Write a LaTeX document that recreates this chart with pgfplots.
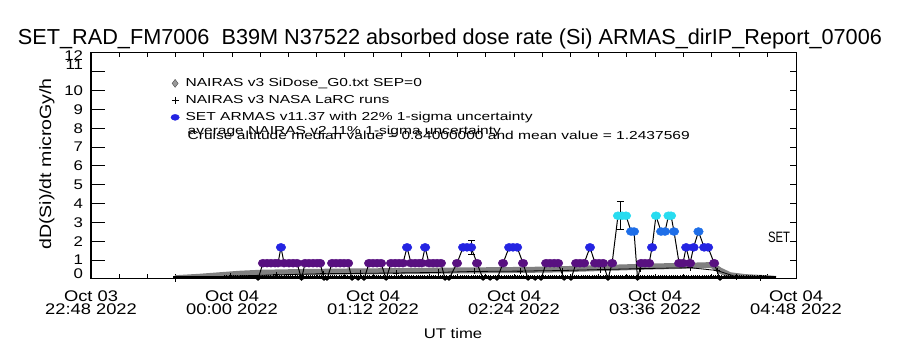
\documentclass[border=0pt]{standalone}
\usepackage{pgfplots}
\pgfplotsset{compat=1.18}
\usepackage{pgfplotstable}
\usepackage{fontspec}
\setmainfont{Liberation Sans}
\usepackage{graphicx}

\definecolor{purp}{RGB}{88,16,128}
\definecolor{blA}{RGB}{36,36,226}
\definecolor{blB}{RGB}{30,110,232}
\definecolor{cyn}{RGB}{40,220,240}

\pgfplotsset{dotlegend/.style={legend image code/.code={\pgfpathrectangle{\pgfpoint{0pt}{-3pt}}{\pgfpoint{17pt}{6pt}}\pgfusepath{use as bounding box}\draw[##1] plot coordinates {(8.5pt,0pt)};}}}

% ARMAS dose rate: t = minutes after 22:48 UT, d = microGy/h, c = colour class
\pgfplotstableread{
t d c
85.3 0 z
87.8 0.84 p
89.9 0.84 p
91.9 0.84 p
94.0 0.84 p
95.5 0.84 p
97.0 1.68 b
98.6 0.84 p
101.1 0.84 p
103.2 0.84 p
105.2 0.84 p
107.5 0 z
109.3 0.84 p
111.3 0.84 p
113.4 0.84 p
115.4 0.84 p
117.0 0.84 p
119.0 0 z
120.5 0 z
123.1 0.84 p
125.1 0.84 p
127.2 0.84 p
129.2 0.84 p
131.3 0.84 p
133.3 0 z
136.4 0 z
139.4 0 z
142.0 0.84 p
144.0 0.84 p
146.1 0.84 p
148.1 0.84 p
150.7 0 z
153.2 0.84 p
155.3 0.84 p
157.3 0.84 p
159.3 0.84 p
161.4 1.68 b
163.4 0.84 p
165.5 0.84 p
167.5 0.84 p
168.9 0.84 p
170.6 1.68 b
172.6 0.84 p
174.7 0.84 p
176.7 0.84 p
178.7 0.84 p
180.8 0 z
182.8 0 z
186.9 0.84 p
190.0 1.68 b
192.0 1.68 b
194.1 1.68 b
197.1 0.84 p
200.2 0 z
203.8 0 z
207.3 0 z
210.4 0.84 p
213.5 1.68 b
215.5 1.68 b
217.6 1.68 b
220.6 0.84 p
223.2 0 z
226.8 0 z
229.8 0 z
232.4 0.84 p
234.4 0.84 p
236.5 0.84 p
238.5 0.84 p
241.6 0 z
245.1 0 z
247.7 0.84 p
249.7 0.84 p
251.8 0.84 p
254.8 1.68 b
257.4 0.84 p
259.4 0.84 p
261.5 0.84 p
264.0 0 z
266.1 0.84 p
269.1 3.36 c
271.2 3.36 c
273.2 3.36 c
275.8 2.52 B
277.3 2.52 B
279.1 0 z
280.9 0.84 p
282.9 0.84 p
285.0 0.84 p
286.5 1.68 b
288.5 3.36 c
291.1 2.52 B
293.1 2.52 B
294.9 3.36 c
296.2 3.36 c
297.7 2.52 B
300.3 0.84 p
302.3 0.84 p
303.9 1.68 b
305.9 0.84 p
307.7 1.68 b
310.2 2.52 B
313.1 1.68 b
315.1 1.68 b
318.2 0.84 p
321.2 0 z
}\armas

% NAIRAS v3 SiDose G0 model curve
\pgfplotstableread{
t d
42.9 0.04
55.7 0.12
65.9 0.20
76.1 0.28
86.3 0.33
106.7 0.37
132.3 0.40
157.8 0.42
183.3 0.45
208.9 0.47
234.4 0.50
259.9 0.58
285.5 0.66
311.0 0.72
317.1 0.74
321.2 0.45
326.3 0.20
334.0 0.10
346.8 0.03
349.8 0.00
}\sidose

% NAIRAS v3 NASA LaRC runs
\pgfplotstableread{
t d
42.9 0.02
71.0 0.15
94.5 0.22
118.5 0.28
137.4 0.30
155.8 0.32
177.2 0.35
195.6 0.40
219.1 0.42
240.5 0.45
259.9 0.50
280.4 0.55
305.9 0.60
319.7 0.45
329.4 0.12
341.7 0.05
}\larc

\begin{document}
\begin{tikzpicture}
\pgfplotsset{base/.style={at={(91pt,71pt)}, anchor=south west,
  width=705pt, height=226pt, scale only axis,
  xmin=0, xmax=360, ymin=0, ymax=12,
  axis line style={line width=1pt},
  tick style={black, line width=1pt},
  /pgf/number format/assume math mode=true}}
\path[use as bounding box] (0,0) rectangle (900pt,350pt);

\begin{axis}[base,
  xtick={0,72,...,360}, minor x tick num=4,
  major tick length=4.5pt, minor tick length=4.5pt,
  ytick=\empty,
  xticklabels={{Oct 03\\22:48 2022},{Oct 04\\00:00 2022},{Oct 04\\01:12 2022},{Oct 04\\02:24 2022},{Oct 04\\03:36 2022},{Oct 04\\04:48 2022}},
  xticklabel style={align=center, font=\fontsize{15.4}{13.3}\selectfont, inner sep=0pt, yshift=-11.7pt, xscale=1.19},
  legend style={at={(0.107,0.902)}, anchor=north west, draw=none, fill=none,
    inner sep=0pt, row sep=1pt, font=\fontsize{11.6}{12}\selectfont,
    nodes={inner sep=2pt, text height=9pt, text depth=3pt}},
  legend cell align=left,
]
\addplot[black!50, line width=6pt, line join=round, forget plot] table[x=t,y=d] {\sidose};
\addplot[black, line width=2.5pt, forget plot] coordinates {(42,0.07) (350,0.07)};
\addplot[black, line width=4pt, dash pattern=on 0.8pt off 1.4pt, forget plot] coordinates {(68,0.12) (345,0.12)};
\addplot[black, line width=0.8pt, mark=+, mark size=3pt, forget plot] table[x=t,y=d] {\larc};
\addplot[black, line width=1pt, mark=none, forget plot] table[x=t,y=d] {\armas};
\addplot[scatter, only marks, mark=*, mark size=4pt, mark options={xscale=1.2},
  scatter src=explicit symbolic,
  scatter/classes={
    z={mark=*, black, mark size=1.5pt},
    p={mark=*, draw=purp, fill=purp},
    b={mark=*, draw=blA, fill=blA},
    B={mark=*, draw=blB, fill=blB},
    c={mark=*, draw=cyn, fill=cyn}},
  forget plot] table[x=t,y=d,meta=c] {\armas};
\addplot[draw=none, no markers, forget plot,
  error bars/.cd, y dir=both, y explicit,
  error bar style={black, line width=1pt},
  error mark options={black, line width=1pt, mark size=3.5pt, rotate=90}]
  coordinates {(194.4,1.68) +- (0,0.37) (270.3,3.36) +- (0,0.74)};

\addlegendimage{only marks, mark=diamond*, mark size=4pt, draw=black!70, fill=black!40, dotlegend}
\addlegendentry{\scalebox{1.34}[1]{NAIRAS v3 SiDose\_G0.txt SEP=0}}
\addlegendimage{only marks, mark=+, mark size=3.5pt, black, line width=1pt, dotlegend}
\addlegendentry{\scalebox{1.34}[1]{NAIRAS v3 NASA LaRC runs}}
\addlegendimage{only marks, mark=*, mark size=3pt, draw=blA, fill=blA, mark options={xscale=1.4}, dotlegend}
\addlegendentry{\scalebox{1.34}[1]{SET ARMAS v11.37 with 22\% 1-sigma uncertainty}}
\end{axis}

\begin{axis}[base, xtick=\empty, ytick={0,...,12}, ytick pos=left,
  major tick length=14pt,
  yticklabels={{},1,2,3,4,5,6,7,8,9,10,{},{}},
  yticklabel style={font=\fontsize{14}{14}\selectfont, anchor=east, inner sep=0pt, xshift=-7.7pt, xscale=1.2}]
\end{axis}
\begin{axis}[base, xtick=\empty, ytick={0,...,12}, ytick pos=right,
  yticklabels={}, major tick length=6pt]
\end{axis}

% end labels of the y axis, set where the reference draws them
\node[anchor=east, inner sep=0pt, xscale=1.2] at (83.3pt,76.5pt) {\fontsize{14}{14}\selectfont 0};
\node[anchor=east, inner sep=0pt, xscale=1.2] at (83.3pt,285pt) {\fontsize{14}{14}\selectfont 11};
\node[anchor=east, inner sep=0pt, xscale=1.2] at (83.3pt,294pt) {\fontsize{14}{14}\selectfont 12};

% title and labels
\node[anchor=base] at (450pt,305pt) {\resizebox{864pt}{!}{\fontsize{21.7}{24}\selectfont SET\_RAD\_FM7006\ \ B39M N37522 absorbed dose rate (Si) ARMAS\_dirIP\_Report\_07006}};
\node[rotate=90, anchor=center] at (47pt,186pt) {\scalebox{1.2}[1]{\fontsize{16.3}{17}\selectfont dD(Si)/dt microGy/h}};
\node[anchor=center, xscale=1.19] at (453pt,17pt) {\fontsize{14}{14}\selectfont UT time};
\node[anchor=center] at (779pt,113pt) {\resizebox{22pt}{10.5pt}{SET}};
\node[anchor=base west, inner sep=0pt] at (187.5pt,215.5pt) {\scalebox{1.34}[1]{\fontsize{11.6}{12}\selectfont average NAIRAS v2 11\% 1-sigma uncertainty}};
\node[anchor=base west, inner sep=0pt] at (187.5pt,210.5pt) {\scalebox{1.34}[1]{\fontsize{11.6}{12}\selectfont Cruise altitude median value = 0.84000000 and mean value = 1.2437569}};
\end{tikzpicture}
\end{document}
